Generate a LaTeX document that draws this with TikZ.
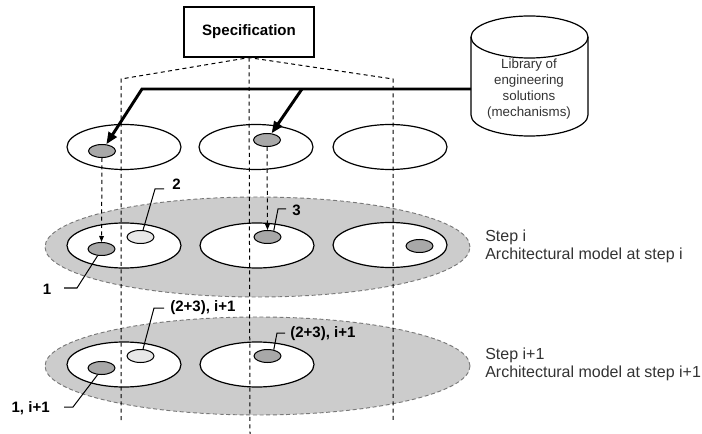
\documentclass[tikz,border=0pt]{standalone}
\usepackage{fontspec}
\setmainfont{Liberation Sans}
\usetikzlibrary{shapes.geometric,arrows.meta}
\definecolor{layergray}{RGB}{204,204,204}
\definecolor{bordergray}{RGB}{120,120,120}
\definecolor{dkgray}{RGB}{168,168,168}
\definecolor{ltgray}{RGB}{232,232,232}
\begin{document}
\begin{tikzpicture}[x=0.75pt,y=-0.75pt,
  outer/.style={ellipse,draw,line width=0.9pt,fill=white,minimum width=85.5pt,minimum height=33.75pt,inner sep=0pt},
  dot/.style={ellipse,draw,line width=0.75pt,minimum width=20.25pt,minimum height=9.75pt,inner sep=0pt},
  dk/.style={dot,fill=dkgray},
  lt/.style={dot,fill=ltgray},
  layer/.style={ellipse,draw=bordergray,dash pattern=on 3pt off 2pt,fill=layergray,line width=0.7pt,minimum width=318.75pt,inner sep=0pt},
  guide/.style={dash pattern=on 3pt off 2.5pt,line width=0.75pt},
  lead/.style={line width=0.75pt},
  lab/.style={font=\fontsize{11.3pt}{13pt}\selectfont\bfseries,inner sep=0pt},
  steptext/.style={font=\fontsize{12pt}{13.5pt}\selectfont,align=left,inner sep=0pt,anchor=west},
  thickarrow/.style={line width=2.2pt,-{Triangle[length=9pt,width=7pt]}},
  droparrow/.style={guide,-{Triangle[length=4.5pt,width=3.5pt]}}
]
\useasboundingbox (0,0) rectangle (702,434);

% layers
\node[layer,minimum height=75pt] (Li) at (257.5,247) {};
\node[layer,minimum height=73.5pt] (Lj) at (257.5,366) {};

% top row
\node[outer,fill=none] (T1) at (124,147) {};
\node[outer,fill=none] (T2) at (256,147) {};
\node[outer,fill=none] (T3) at (390,147) {};

% step i
\node[outer] (A1) at (124,245.5) {};
\node[outer] (A2) at (257,245.5) {};
\node[outer] (A3) at (390,245) {};

% step i+1
\node[outer] (B1) at (124,364.5) {};
\node[outer] (B2) at (257,364.5) {};

% specification
\node[draw,line width=0.9pt,minimum width=97.5pt,minimum height=37.5pt,inner sep=0pt,
  font=\fontsize{11.3pt}{13pt}\selectfont\bfseries] (spec) at (249,32) {Specification};

% guide lines
\coordinate (gL) at (121,79);
\coordinate (gR) at (393,79);
\coordinate (gLb) at (121,420);
\coordinate (gRb) at (393,420);
\coordinate (gCb) at (250,434);
\draw[guide] (gLb) -- (gL) -- (spec.south) -- (gR) -- (gRb);
\draw[guide] (spec.south) -- (gCb);

% small ellipses
\node[dk] (t1) at (102,151) {};
\node[dk] (t2) at (267,140) {};
\node[dk] (s1) at (101.5,249) {};
\node[lt] (s2) at (140.5,237) {};
\node[dk] (s3) at (267.5,237) {};
\node[dk] (s4) at (419.5,246) {};
\node[dk] (u1) at (101.5,368) {};
\node[lt] (u2) at (140.5,356) {};
\node[dk] (u3) at (267.5,356) {};

% library cylinder
\draw[line width=0.9pt,fill=white] (471,37) -- (471,115) arc (180:360:43.875pt and 15.75pt) -- (588,37);
\draw[line width=0.9pt] (529.5,37) ellipse [x radius=43.875pt, y radius=15.75pt];
\node[font=\fontsize{10pt}{12pt}\selectfont,align=center,inner sep=0pt,text=black!80] (lib) at (529,89)
  {Library of\\engineering\\solutions\\(mechanisms)};
\coordinate (libW) at (471,89);
\coordinate (j1) at (142,89);
\coordinate (j2) at (302,89);

% thick arrows
\draw[thickarrow] (libW) -- (j1) -- (t1);
\draw[thickarrow] (j2) -- (t2);

% drop arrows
\draw[droparrow] (t1.south) -- (s1.north);
\draw[droparrow] (t2.south) -- (s3.north);

% labels step i
\node[lab,anchor=west] (lab2) at (172,184) {2};
\coordinate (k2a) at (155,189);
\coordinate (k2b) at (164,189);
\draw[lead] (s2.70) -- (k2a) -- (k2b);

\node[lab] (lab1) at (47,289) {1};
\coordinate (k1a) at (77,288);
\coordinate (k1b) at (64,288);
\draw[lead] (s1.-120) -- (k1a) -- (k1b);

\node[lab,anchor=west] (lab3) at (292,210) {3};
\coordinate (k3a) at (278,209);
\coordinate (k3b) at (286,209);
\draw[lead] (s3.45) -- (k3a) -- (k3b);

% labels step i+1
\node[lab,anchor=west] (lab4) at (170,307.5) {(2+3), i+1};
\coordinate (k4a) at (154,308);
\coordinate (k4b) at (164,308);
\draw[lead] (u2.70) -- (k4a) -- (k4b);

\node[lab,anchor=west] (lab5) at (290,334) {(2+3), i+1};
\coordinate (k5a) at (277,333);
\coordinate (k5b) at (285,333);
\draw[lead] (u3.45) -- (k5a) -- (k5b);

\node[lab,anchor=east] (lab6) at (50,408) {1, i+1};
\coordinate (k6a) at (73,407);
\coordinate (k6b) at (64,407);
\draw[lead] (u1.-120) -- (k6a) -- (k6b);

% step texts
\node[steptext,text=black!80] (stepi) at (485,246) {Step i\\Architectural model at step i};
\node[steptext,text=black!80] (stepj) at (485,364) {Step i+1\\Architectural model at step i+1};
\end{tikzpicture}
\end{document}
